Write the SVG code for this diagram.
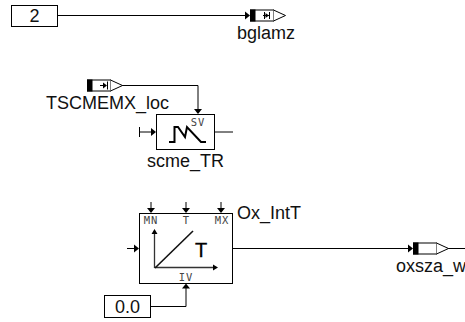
<svg xmlns="http://www.w3.org/2000/svg" width="465" height="322" viewBox="0 0 465 322">
<style>
.l{fill:none;stroke:#000;stroke-width:1}
.b{fill:#fff;stroke:#000;stroke-width:1}
.k{fill:#000;stroke:none}
.t{font-family:"Liberation Sans",Arial,sans-serif;font-size:18px;fill:#111}
.s{font-family:"DejaVu Sans Mono",monospace;font-size:10.5px;fill:#444;text-anchor:middle;letter-spacing:1px}
.g{fill:none;stroke:#000;stroke-width:2}
.a{fill:none;stroke:#333;stroke-width:1.300}
</style>
<defs>
<g id="port"><rect class="b" x="0.5" y="0.5" width="23" height="11"/><path class="b" d="M23.500 .5L35.500 6L23.500 11.500"/><rect class="k" x="0" y="0" width="5.500" height="12"/></g>
<path id="ah" class="k" d="M0 0L-5 -4V4Z"/>
</defs>
<g id="connectors">
<path class="l" d="M58 15.500H246"/><use href="#ah" x="250" y="15.500"/>
<path class="l" d="M122 85.500H198V110"/><use href="#ah" transform="translate(198 114) rotate(90)"/>
<path class="l" d="M139.500 127V137M139 132H152"/><use href="#ah" x="156" y="132"/>
<path class="l" d="M215 132H233"/>
<path class="l" d="M127 248.500H135"/><use href="#ah" x="139" y="248.500"/>
<path class="l" d="M151 202V209"/><use href="#ah" transform="translate(151 213) rotate(90)"/>
<path class="l" d="M186 202V209"/><use href="#ah" transform="translate(186 213) rotate(90)"/>
<path class="l" d="M221 202V209"/><use href="#ah" transform="translate(221 213) rotate(90)"/>
<path class="l" d="M233 248.500H409"/><use href="#ah" x="413" y="248.500"/>
<path class="l" d="M448 248.500H465"/>
<path class="l" d="M151 306.500H186V288"/><use href="#ah" transform="translate(186 283.500) rotate(-90)"/>
</g>
<g id="n2"><rect class="b" x="11.500" y="5.500" width="46" height="21"/><text class="t" x="34.500" y="22" text-anchor="middle">2</text></g>
<g id="bglamz"><use href="#port" x="250" y="9.500"/><path class="l" d="M264.500 12V19M269.500 12V19M263 15.500H269"/><path class="k" d="M269 15.500L265.500 13V18Z"/><text class="t" x="237" y="39">bglamz</text></g>
<g id="TSCMEMX_loc"><use href="#port" x="87" y="79.500"/><path class="l" d="M107.500 81.500V89.500M100 85.500H106"/><path class="k" d="M107 85.500L103 82.500V88.500Z"/><text class="t" x="46" y="108.500">TSCMEMX_loc</text></g>
<g id="scme_TR"><rect class="b" x="156.500" y="114.500" width="58" height="35"/><path class="g" d="M169 142H174.500V127H178L185 137L187 127L201 142H206"/><text class="s" x="198" y="126">SV</text><text class="t" x="147" y="167">scme_TR</text></g>
<g id="Ox_IntT"><rect class="b" x="139.500" y="213.500" width="93" height="70"/><text class="s" x="151" y="224">MN</text><text class="s" x="186.500" y="224">T</text><text class="s" x="222" y="224">MX</text><text class="s" x="186" y="281">IV</text><path class="a" d="M154.500 268V233M154.500 267.500H215"/><path class="k" d="M154.500 229L151.500 234H157.500ZM218 267.500L213 264.500V270.500Z"/><path d="M155 268L193 231" fill="none" stroke="#111" stroke-width="1.600"/><text x="201" y="257" font-family="Liberation Sans,sans-serif" font-size="20" fill="#000" stroke="#000" stroke-width=".3" text-anchor="middle">T</text><text class="t" x="237" y="219">Ox_IntT</text></g>
<g id="n00"><rect class="b" x="104.500" y="295.500" width="46" height="22"/><text class="t" x="127.500" y="313" text-anchor="middle">0.0</text></g>
<g id="oxsza_w"><use href="#port" x="413" y="242.500"/><text class="t" x="396" y="272">oxsza_w</text></g>
</svg>
